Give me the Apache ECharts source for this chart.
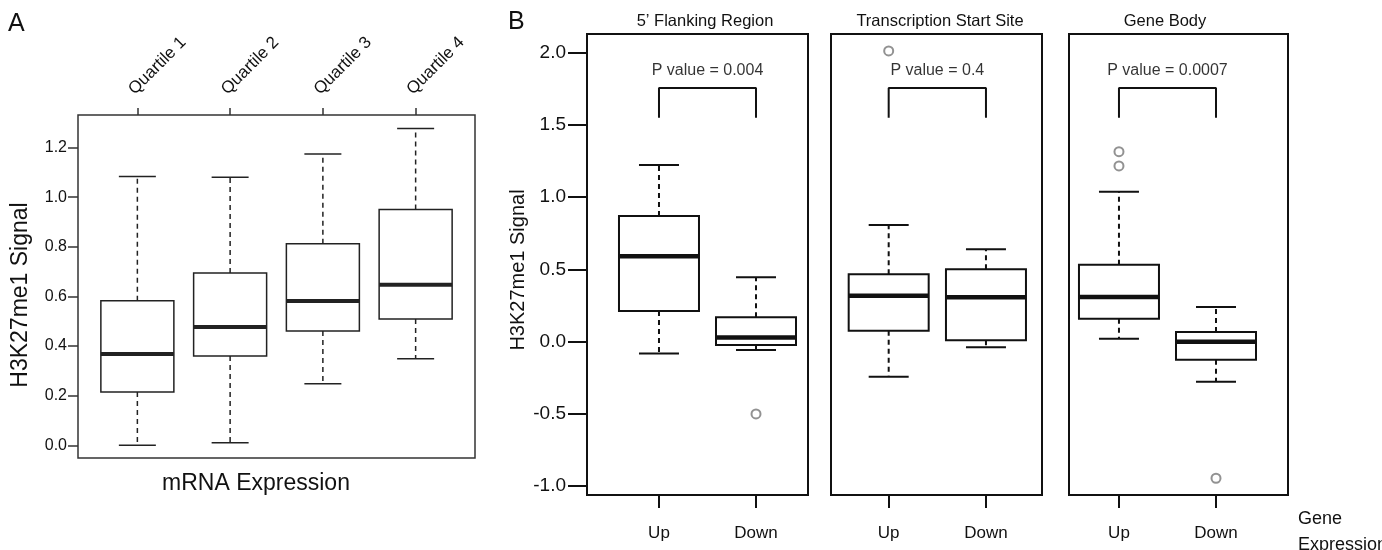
<!DOCTYPE html>
<html>
<head>
<meta charset="utf-8">
<script src="https://cdn.jsdelivr.net/npm/echarts@6.0.0/dist/echarts.min.js"></script>
<style>
html, body { margin: 0; padding: 0; background: #fff; }
#main { width: 1382px; height: 550px; }
</style>
</head>
<body>
<div id="main"></div>
<script>
// ---- panel A : signal by expression quartile ----
var quartiles = ['Quartile 1', 'Quartile 2', 'Quartile 3', 'Quartile 4'];
// [min, Q1, median, Q3, max]
var quartileBoxes = [
    [0.000, 0.215, 0.368, 0.583, 1.083],
    [0.010, 0.360, 0.477, 0.694, 1.080],
    [0.248, 0.461, 0.582, 0.812, 1.174],
    [0.349, 0.509, 0.647, 0.950, 1.277]
];
var yTicksA = [0, 0.2, 0.4, 0.6, 0.8, 1.0, 1.2];

// ---- panel B : up vs down regulated genes ----
var regions = ['5\u2019 Flanking Region', 'Transcription Start Site', 'Gene Body'];
var groups = ['Up', 'Down'];
var flankingBoxes = [
    [-0.082, 0.213, 0.591, 0.869, 1.222],
    [-0.057, -0.023, 0.028, 0.169, 0.446]
];
var tssBoxes = [
    [-0.242, 0.076, 0.318, 0.466, 0.808],
    [-0.039, 0.010, 0.307, 0.501, 0.639]
];
var geneBodyBoxes = [
    [0.021, 0.159, 0.309, 0.533, 1.038],
    [-0.277, -0.125, 0.000, 0.067, 0.240]
];
var flankingOutliers = [[2, -0.500]];
var tssOutliers = [[1, 2.012]];
var geneBodyOutliers = [[1, 1.315], [1, 1.216], [2, -0.945]];
var pValues = ['0.004', '0.4', '0.0007'];
var bracketLevels = [1.55, 1.755];
var yTicksB = [-1.0, -0.5, 0.0, 0.5, 1.0, 1.5, 2.0];

var FONT = '"Liberation Sans", Arial, Helvetica, sans-serif';

function withPositions(boxes) {
    return boxes.map(function (b, i) {
        return [i + 1].concat(b);
    });
}

// draws R-style boxes: dashed whiskers, solid caps, thick median
function boxRenderer(boxW, capW, lw, medW, color) {
    return function (params, api) {
        var x = api.value(0);
        var pMin = api.coord([x, api.value(1)]);
        var pQ1 = api.coord([x, api.value(2)]);
        var pMed = api.coord([x, api.value(3)]);
        var pQ3 = api.coord([x, api.value(4)]);
        var pMax = api.coord([x, api.value(5)]);
        var cx = pMin[0];
        var dash = { stroke: color, lineWidth: lw, lineDash: [5, 4] };
        var solid = { stroke: color, lineWidth: lw };
        return {
            type: 'group',
            children: [
                { type: 'line', shape: { x1: cx, y1: pQ3[1], x2: cx, y2: pMax[1] }, style: dash },
                { type: 'line', shape: { x1: cx, y1: pQ1[1], x2: cx, y2: pMin[1] }, style: dash },
                { type: 'line', shape: { x1: cx - capW / 2, y1: pMax[1], x2: cx + capW / 2, y2: pMax[1] }, style: solid },
                { type: 'line', shape: { x1: cx - capW / 2, y1: pMin[1], x2: cx + capW / 2, y2: pMin[1] }, style: solid },
                { type: 'rect', shape: { x: cx - boxW / 2, y: pQ3[1], width: boxW, height: pQ1[1] - pQ3[1] },
                  style: { fill: '#fff', stroke: color, lineWidth: lw } },
                { type: 'line', shape: { x1: cx - boxW / 2, y1: pMed[1], x2: cx + boxW / 2, y2: pMed[1] },
                  style: { stroke: color, lineWidth: medW } }
            ]
        };
    };
}

function fmt1(v) { return (Math.round(v * 10) / 10).toFixed(1); }

var gridB = [
    { left: 587, top: 34, width: 221, height: 461 },
    { left: 831, top: 34, width: 211, height: 461 },
    { left: 1069, top: 34, width: 219, height: 461 }
];
var xRangeB = [[0.258, 2.536], [0.407, 2.576], [0.485, 2.742]];
var boxesB = [flankingBoxes, tssBoxes, geneBodyBoxes];
var outliersB = [flankingOutliers, tssOutliers, geneBodyOutliers];

var grids = [{ left: 78, top: 115, width: 397, height: 343, show: true,
               borderColor: '#333', borderWidth: 1.5, backgroundColor: 'transparent' }];
var xAxes = [{
    gridIndex: 0, type: 'value', position: 'top', min: 0.36, max: 4.64,
    axisLine: { show: false, onZero: false }, splitLine: { show: false },
    axisTick: { customValues: [1, 2, 3, 4], length: 7, lineStyle: { color: '#333', width: 1.5 } },
    axisLabel: {
        customValues: [1, 2, 3, 4], rotate: -45, margin: 17, align: 'left', verticalAlign: 'bottom',
        fontSize: 17, color: '#111', fontFamily: FONT,
        formatter: function (v) { return quartiles[Math.round(v) - 1]; }
    }
}];
var yAxes = [{
    gridIndex: 0, type: 'value', min: -0.0512, max: 1.3312,
    axisLine: { show: false, onZero: false }, splitLine: { show: false },
    axisTick: { customValues: yTicksA, length: 10, lineStyle: { color: '#333', width: 1.5 } },
    axisLabel: { customValues: yTicksA, margin: 11, fontSize: 16, color: '#111', fontFamily: FONT, formatter: fmt1 }
}];
var series = [{
    type: 'custom', xAxisIndex: 0, yAxisIndex: 0,
    renderItem: boxRenderer(73, 37, 1.5, 4, '#222'),
    encode: { x: 0, y: [1, 2, 3, 4, 5] },
    data: withPositions(quartileBoxes)
}];

for (var p = 0; p < 3; p++) {
    var g = gridB[p];
    grids.push({ left: g.left, top: g.top, width: g.width, height: g.height, show: true,
                 borderColor: '#111', borderWidth: 2, backgroundColor: 'transparent' });
    xAxes.push({
        gridIndex: p + 1, type: 'value', min: xRangeB[p][0], max: xRangeB[p][1],
        axisLine: { show: false, onZero: false }, splitLine: { show: false },
        axisTick: { customValues: [1, 2], length: 13, lineStyle: { color: '#111', width: 2 } },
        axisLabel: { customValues: [1, 2], margin: 30, fontSize: 17, color: '#111', fontFamily: FONT,
                     formatter: function (v) { return groups[Math.round(v) - 1]; } }
    });
    yAxes.push({
        gridIndex: p + 1, type: 'value', min: -1.061, max: 2.129,
        axisLine: { show: false, onZero: false }, splitLine: { show: false },
        axisTick: { show: p === 0, customValues: yTicksB, length: 19, lineStyle: { color: '#111', width: 2 } },
        axisLabel: { show: p === 0, customValues: yTicksB, margin: 21, fontSize: 19, color: '#111',
                     fontFamily: FONT, formatter: fmt1 }
    });
    series.push({
        type: 'custom', xAxisIndex: p + 1, yAxisIndex: p + 1,
        renderItem: boxRenderer(80, 40, 2, 4.5, '#111'),
        encode: { x: 0, y: [1, 2, 3, 4, 5] },
        data: withPositions(boxesB[p])
    });
    series.push({
        type: 'scatter', xAxisIndex: p + 1, yAxisIndex: p + 1,
        symbol: 'emptyCircle', symbolSize: 9,
        itemStyle: { color: '#777', borderWidth: 1.5 },
        data: outliersB[p]
    });
    series.push({
        type: 'line', xAxisIndex: p + 1, yAxisIndex: p + 1, symbol: 'none',
        lineStyle: { color: '#111', width: 2 },
        data: [[1, bracketLevels[0]], [1, bracketLevels[1]], [2, bracketLevels[1]], [2, bracketLevels[0]]]
    });
    series.push({
        type: 'scatter', xAxisIndex: p + 1, yAxisIndex: p + 1, symbolSize: 1,
        itemStyle: { color: 'rgba(0,0,0,0)' },
        label: { show: true, position: 'top', distance: -9, fontSize: 16, color: '#000', fontFamily: FONT,
                 formatter: 'P value = ' + pValues[p] },
        data: [[1.5, 1.88]]
    });
}

function txt(text, x, y, size, extra) {
    var el = { type: 'text', x: x, y: y, z: 10,
               style: { text: text, fontSize: size, fontFamily: FONT, fill: '#111',
                        align: 'center', verticalAlign: 'middle' } };
    if (extra) {
        for (var k in extra.style || {}) el.style[k] = extra.style[k];
        if (extra.rotation) el.rotation = extra.rotation;
    }
    return el;
}

var graphics = [
    txt('A', 8, 24, 25, { style: { align: 'left' } }),
    txt('B', 508, 22, 25, { style: { align: 'left' } }),
    txt('mRNA Expression', 256, 484, 23),
    txt('H3K27me1 Signal', 21, 295, 23, { rotation: Math.PI / 2 }),
    txt('H3K27me1 Signal', 518, 270, 20, { rotation: Math.PI / 2 }),
    txt(regions[0], 705, 21, 16.5),
    txt(regions[1], 940, 21, 16.5),
    txt(regions[2], 1165, 21, 16.5),
    txt('Gene\nExpression', 1298, 506, 18, { style: { align: 'left', verticalAlign: 'top', lineHeight: 26 } })
];

var chart = echarts.init(document.getElementById('main'));
chart.setOption({
    animation: false,
    backgroundColor: '#fff',
    textStyle: { fontFamily: FONT },
    grid: grids,
    xAxis: xAxes,
    yAxis: yAxes,
    series: series,
    graphic: graphics
});
</script>
</body>
</html>
